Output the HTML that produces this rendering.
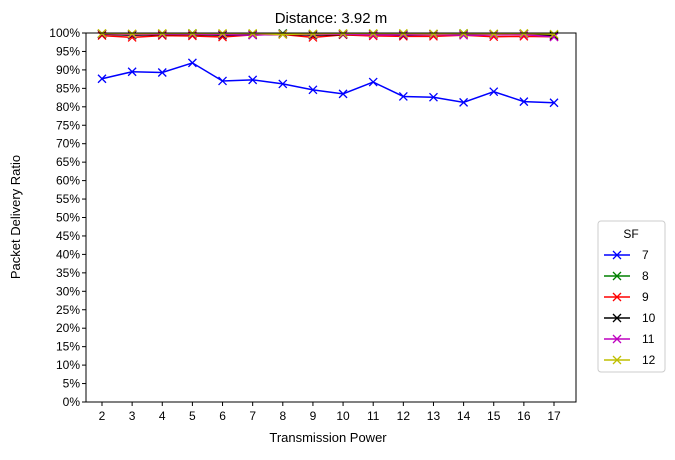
<!DOCTYPE html><html><head><style>body{margin:0;background:#fff;font-family:"Liberation Sans","DejaVu Sans",sans-serif}</style></head><body>
<svg id="c" width="675" height="455" xmlns="http://www.w3.org/2000/svg"></svg>
<script>
const xs=[2,3,4,5,6,7,8,9,10,11,12,13,14,15,16,17];
const sf7=[87.6,89.5,89.3,91.9,87.0,87.3,86.2,84.6,83.5,86.7,82.8,82.6,81.2,84.1,81.4,81.1];
const sf8=[99.8,99.6,99.8,99.9,99.6,99.8,99.9,99.6,99.8,99.7,99.8,99.7,99.9,99.7,99.8,99.4];
const sf9=[99.3,98.8,99.3,99.2,98.9,99.5,99.6,98.8,99.5,99.2,99.1,99.1,99.4,99.0,99.1,99.0];
const sf10=[99.7,99.4,99.6,99.6,99.4,99.5,99.7,99.4,99.6,99.7,99.4,99.6,99.8,99.6,99.7,99.3];
const sf11=[99.8,99.6,99.7,99.7,99.6,99.4,99.7,99.6,99.7,99.5,99.5,99.6,99.4,99.5,99.6,98.9];
const sf12=[99.9,99.8,99.9,99.9,99.9,99.9,99.6,99.8,99.9,99.9,99.9,99.8,99.9,99.8,99.9,99.7];
const series=[["7",sf7,"#0000ff"],["8",sf8,"#008000"],["9",sf9,"#ff0000"],["10",sf10,"#000000"],["11",sf11,"#bf00bf"],["12",sf12,"#bfbf00"]];
const L=86,R=576,T=33,B=402;
const X=v=>102+(v-2)*(554-102)/15, Y=v=>B-v/100*(B-T);
const s=document.getElementById('c');let h='';
h+=`<text x="331" y="23" font-size="15" text-anchor="middle">Distance: 3.92 m</text>`;
for(let p=0;p<=100;p+=5){const y=Y(p);h+=`<line x1="${L-4}" x2="${L}" y1="${y}" y2="${y}" stroke="#000"/><text x="${L-6}" y="${y+4}" font-size="12" text-anchor="end">${p}%</text>`;}
xs.forEach(v=>{const x=X(v);h+=`<line x1="${x}" x2="${x}" y1="${B}" y2="${B+4}" stroke="#000"/><text x="${x}" y="${B+18}" font-size="12" text-anchor="middle">${v}</text>`;});
h+=`<text x="328" y="442" font-size="13" text-anchor="middle">Transmission Power</text>`;
h+=`<text transform="translate(20,217) rotate(-90)" font-size="13" text-anchor="middle">Packet Delivery Ratio</text>`;
const mk=(x,y,c)=>`<path d="M${x-4} ${y-4}L${x+4} ${y+4}M${x-4} ${y+4}L${x+4} ${y-4}" stroke="${c}" stroke-width="1.3"/>`;
h+=`<g clip-path="url(#cp)"><clipPath id="cp"><rect x="${L}" y="${T-5}" width="${R-L}" height="${B-T+10}"/></clipPath>`;
series.forEach(([n,d,c])=>{h+=`<g><polyline fill="none" stroke="${c}" stroke-width="1.5" points="${d.map((v,i)=>X(xs[i])+','+Y(v)).join(' ')}"/>`;d.forEach((v,i)=>h+=mk(X(xs[i]),Y(v),c));h+='</g>';});
h+='</g>';
h+=`<rect x="${L}" y="${T}" width="${R-L}" height="${B-T}" fill="none" stroke="#000"/>`;
h+=`<g><rect x="598" y="221" width="67" height="151" rx="3" fill="#fff" stroke="#ccc"/><text x="631" y="238" font-size="12" text-anchor="middle">SF</text>`;
series.forEach(([n,d,c],i)=>{const y=255+i*21;h+=`<g><line x1="604" x2="630" y1="${y}" y2="${y}" stroke="${c}" stroke-width="1.5"/>${mk(617,y,c)}<text x="642" y="${y+4}" font-size="12">${n}</text></g>`;});
h+='</g>';
s.innerHTML=h;
</script></body></html>
